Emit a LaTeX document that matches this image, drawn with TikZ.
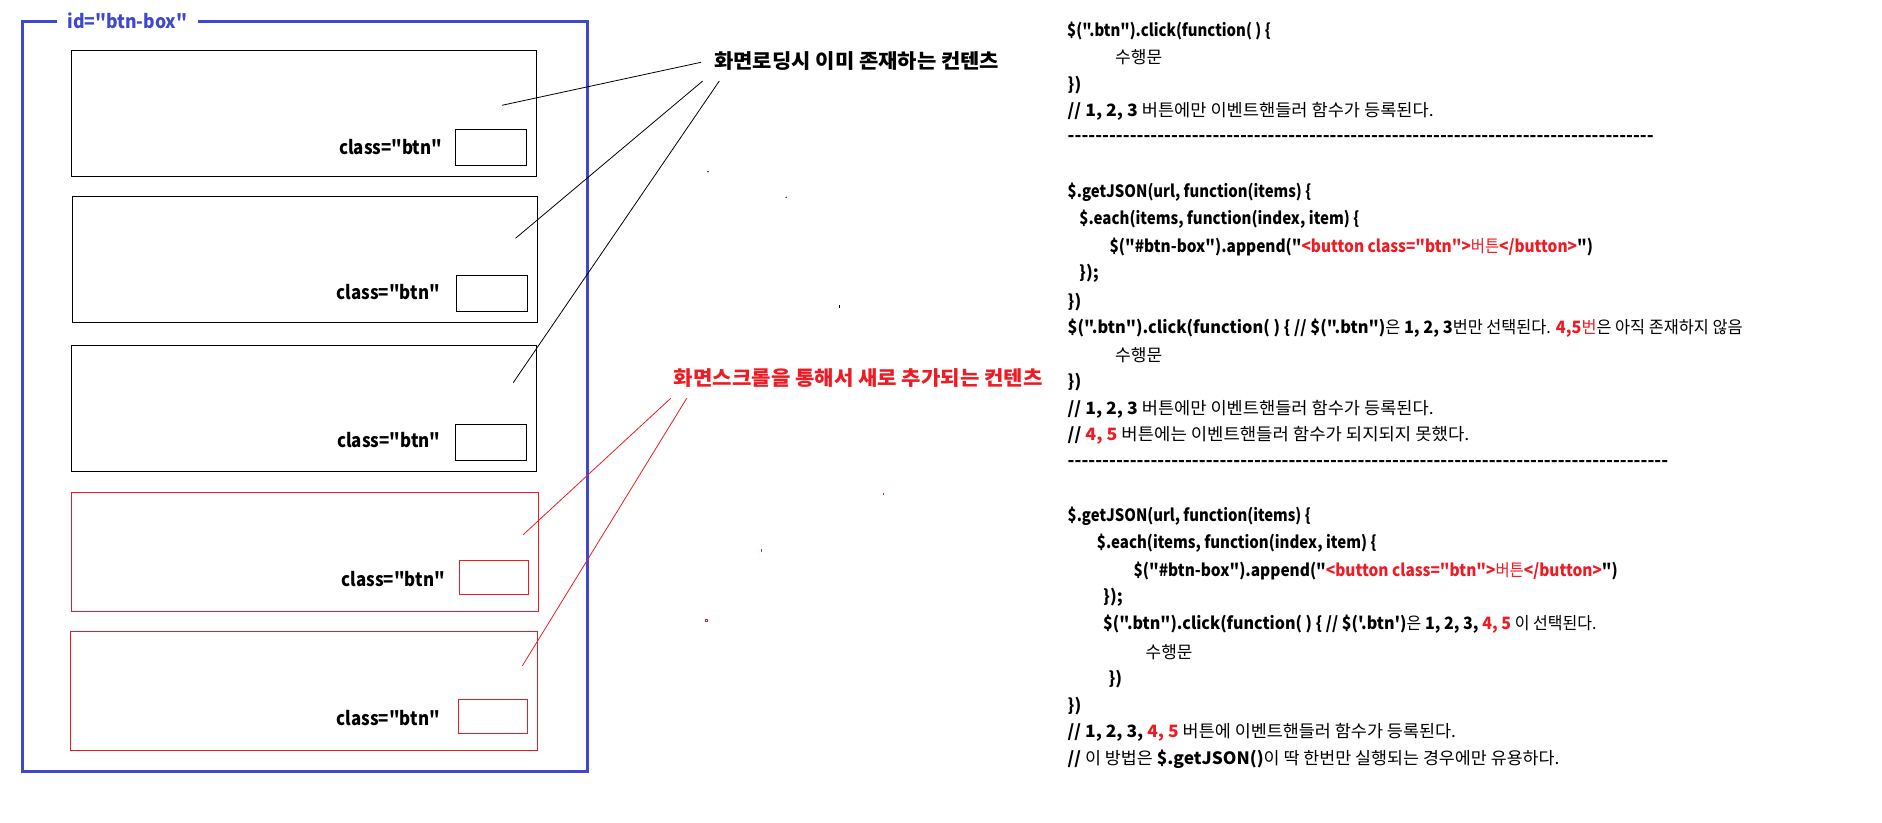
\documentclass[tikz,border=0pt]{standalone}
\usepackage{fontspec}
\usepackage{graphicx}
\setmainfont{Noto Sans CJK KR}
\newfontfamily\cf{Noto Sans CJK KR}
\definecolor{pblue}{RGB}{63,72,204}
\definecolor{pred}{RGB}{237,28,36}
\ExplSyntaxOn
\NewDocumentCommand\reph{m}{\prg_replicate:nn{#1}{-\kern0pt}}
\ExplSyntaxOff
\newcommand\K[1]{{\mdseries #1}}
\newcommand\R[1]{{\color{pred}#1}}
\newcommand\FitW[2]{\resizebox{#1pt}{\height}{#2}}
\tikzset{
  box/.style={draw=black, line width=1pt, inner sep=0pt, outer sep=0pt, minimum width=465, minimum height=126},
  rbox/.style={box, draw=pred, minimum height=119},
  btnbox/.style={draw=black, line width=1pt, inner sep=0pt, outer sep=0pt, minimum width=71, minimum height=36},
  rbtnbox/.style={btnbox, draw=pred, minimum width=69, minimum height=34},
  cls/.style={font=\cf\bfseries\fontsize{19}{23}\selectfont, anchor=east, inner sep=0pt},
  code/.style={font=\cf\bfseries\fontsize{17}{20}\selectfont, anchor=west, inner sep=0pt},
  lbl/.style={font=\cf\bfseries\fontsize{20}{24}\selectfont, inner sep=0pt},
  conn/.style={line width=0.8pt, black},
  rconn/.style={line width=0.8pt, pred},
}
\begin{document}
\begin{tikzpicture}[x=1pt,y=-1pt]
\useasboundingbox (0,0) rectangle (1882,822);
\fill[white] (0,0) rectangle (1882,822);

% outer blue container
\node[draw=pblue, line width=3pt, inner sep=0pt, outer sep=0pt, minimum width=565, minimum height=750] (outer) at (305,396.7) {};
\node[fill=white, inner sep=0pt, minimum width=141.6, minimum height=20, text=pblue, font=\cf\bfseries\fontsize{19}{23}\selectfont] (title) at (127.5,20.5) {\FitW{120}{id="btn-box"}};

% content boxes
\node[box] (b1) at (304,113.3) {};
\node[box] (b2) at (305,259.3) {};
\node[box] (b3) at (304,408.3) {};
\node[rbox, minimum width=467] (b4) at (305.2,551.8) {};
\node[rbox, minimum width=467] (b5) at (304,690.8) {};

\node[btnbox] (n1) at (491,147.3) {};
\node[btnbox] (n2) at (491.9,293.3) {};
\node[btnbox] (n3) at (491,442.3) {};
\node[rbtnbox] (n4) at (494,577.3) {};
\node[rbtnbox] (n5) at (493.1,716.3) {};

\node[cls] (c1) at (442.3,146.7) {\FitW{103}{class="btn"}};
\node[cls] (c2) at (440,291.7) {\FitW{103}{class="btn"}};
\node[cls] (c3) at (440.5,440) {\FitW{103}{class="btn"}};
\node[cls] (c4) at (445,579.3) {\FitW{103}{class="btn"}};
\node[cls] (c5) at (440,718.3) {\FitW{103}{class="btn"}};

% labels
\node[lbl] (lbl1) at (856.8,61) {\FitW{285}{화면로딩시 이미 존재하는 컨텐츠}};
\node[lbl, text=pred] (lbl2) at (858.3,378.3) {\FitW{368.7}{화면스크롤을 통해서 새로 추가되는 컨텐츠}};

% connectors
\coordinate (s1) at (701,62.3);   \coordinate (e1) at (502,105.3);
\coordinate (s2) at (702.7,81);   \coordinate (e2) at (515.5,238.3);
\coordinate (s3) at (719.3,81);   \coordinate (e3) at (513.2,382.7);
\coordinate (s4) at (670.7,398.3); \coordinate (e4) at (523.2,534.7);
\coordinate (s5) at (686.7,398.3); \coordinate (e5) at (522.4,665.7);
\draw[conn] (s1) -- (e1);
\draw[conn] (s2) -- (e2);
\draw[conn] (s3) -- (e3);
\draw[rconn] (s4) -- (e4);
\draw[rconn] (s5) -- (e5);

% stray specks
\draw[line width=0.8pt] (707.3,172) -- (708.6,171.2);
\draw[line width=0.8pt] (786.7,197) -- (785.6,197.8);
\draw[line width=0.8pt] (839.3,304.8) -- (839.3,307.6);
\draw[line width=0.8pt, pred] (883.3,493.4) -- (883.3,495);
\draw[line width=0.8pt, pred] (761.3,549.3) -- (761.3,551.8);
\draw[line width=0.6pt, pred] (705.6,619) rectangle (707.2,621.6);

% code
\node[code] (L1) at (1067,30.7) {\FitW{203.5}{\$(".btn").click(function( ) \{}};
\node[code] (L2) at (1115,57.3) {\FitW{47}{\K{수행문}}};
\node[code] (L3) at (1067.5,85) {\})};
\node[code] (L4) at (1067.5,111.7) {\FitW{366}{// 1, 2, 3 \K{버튼에만 이벤트핸들러 함수가 등록된다.}}};
\node[code] (L5) at (1067.5,138.3) {\FitW{586}{\reph{85}}};
\node[code] (L7) at (1067.5,192.7) {\FitW{243.5}{\$.getJSON(url, function(items) \{}};
\node[code] (L8) at (1079.2,219.3) {\FitW{280}{\$.each(items, function(index, item) \{}};
\node[code] (L9) at (1109.4,246.7) {\FitW{483.3}{\$("\#btn-box").append("\R{<button class="btn">\K{버튼}</button>}")}};
\node[code] (L10) at (1079,273.3) {\});};
\node[code] (L11) at (1067.5,302.3) {\})};
\node[code] (L12) at (1067.5,328.3) {\FitW{674.8}{\$(".btn").click(function( ) \{ // \$(".btn")\K{은} 1, 2, 3\K{번만 선택된다.} \R{4,5\K{번}}\K{은 아직 존재하지 않음}}};
\node[code] (L13) at (1115,355) {\FitW{47}{\K{수행문}}};
\node[code] (L14) at (1067.5,382.3) {\})};
\node[code] (L15) at (1067.5,409) {\FitW{366}{// 1, 2, 3 \K{버튼에만 이벤트핸들러 함수가 등록된다.}}};
\node[code] (L16) at (1067.5,435.7) {\FitW{401.6}{// \R{4, 5} \K{버튼에는 이벤트핸들러 함수가 되지되지 못했다.}}};
\node[code] (L17) at (1067.5,463.3) {\FitW{600.5}{\reph{87}}};
\node[code] (L18) at (1067.5,516.7) {\FitW{243}{\$.getJSON(url, function(items) \{}};
\node[code] (L19) at (1096.7,543.3) {\FitW{279.6}{\$.each(items, function(index, item) \{}};
\node[code] (L20) at (1133.3,570.7) {\FitW{484.3}{\$("\#btn-box").append("\R{<button class="btn">\K{버튼}</button>}")}};
\node[code] (L21) at (1103,597.7) {\});};
\node[code] (L22) at (1103,624.3) {\FitW{493.4}{\$(".btn").click(function( ) \{ // \$('.btn')\K{은} 1, 2, 3, \R{4, 5} \K{이 선택된다.}}};
\node[code] (L23) at (1145.5,651.7) {\FitW{46.7}{\K{수행문}}};
\node[code] (L24) at (1108.4,679.3) {\})};
\node[code] (L25) at (1067.5,706) {\})};
\node[code] (L26) at (1067.5,732.7) {\FitW{388.3}{// 1, 2, 3, \R{4, 5} \K{버튼에 이벤트핸들러 함수가 등록된다.}}};
\node[code] (L27) at (1067.5,759.3) {\FitW{491.8}{// \K{이 방법은} \$.getJSON()\K{이 딱 한번만 실행되는 경우에만 유용하다.}}};
\end{tikzpicture}
\end{document}
